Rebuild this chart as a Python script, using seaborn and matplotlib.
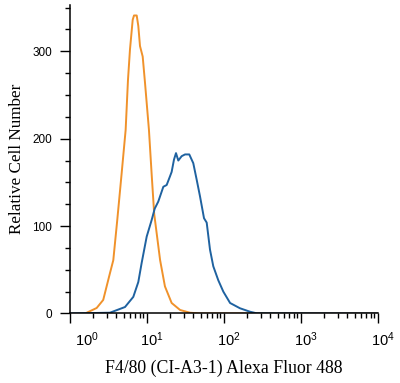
import matplotlib
matplotlib.use("Agg")
import matplotlib.pyplot as plt
import matplotlib.ticker as mticker
from matplotlib.transforms import ScaledTranslation
import pandas as pd
import seaborn as sns

sns.set_style("ticks", {"text.color": "black", "xtick.color": "black",
                        "ytick.color": "black", "axes.labelcolor": "black",
                        "axes.edgecolor": "black"})
plt.rcParams["font.family"] = ["Liberation Sans", "DejaVu Sans"]
plt.rcParams["mathtext.fontset"] = "custom"
plt.rcParams["mathtext.rm"] = "Liberation Sans"
plt.rcParams["mathtext.it"] = "Liberation Sans:italic"

ORANGE = "#F0922B"
BLUE = "#1F62A0"

DECADES = [1, 10, 100, 1000, 10000]
DECADE_LABELS = [r"$10^{0}$", r"$10^{1}$", r"$10^{2}$", r"$10^{3}$", r"$10^{4}$"]

# isotype control (orange)
iso_x = [1.65, 2.22, 2.70, 3.30, 3.65, 4.11, 4.67, 5.28, 5.66, 6.01, 6.52, 6.78,
         7.35, 7.71, 8.11, 8.79, 9.42, 10.6, 11.5, 12.4, 14.8, 17.1, 20.9, 26.9,
         36.1, 48.8, 10000]
iso_y = [0.9, 6.3, 15.5, 46, 61, 107, 159, 210, 267, 302, 336, 341,
         341, 329, 306, 294, 264, 210, 159, 114, 61, 31, 12, 4,
         0.9, 0, 0]

# F4/80 stained (blue)
f480_x = [1.0, 3.30, 5.18, 6.64, 7.71, 8.53, 9.91, 11.5, 12.6, 14.0, 16.3, 18.0,
          19.9, 20.9, 22.4, 23.8, 25.5, 28.2, 31.2, 35.4, 39.9, 44.2, 48.8, 55.0,
          59.6, 65.8, 72.6, 84.3, 98.0, 120, 161, 218, 266, 10000]
f480_y = [0, 0.9, 7.4, 19, 36, 58, 88, 107, 120, 128, 145, 147,
          157, 162, 176, 183.5, 175, 180, 182, 182, 172, 153, 134, 109,
          104, 73, 54, 38, 25, 12, 6, 2, 0.2, 0]

df = pd.concat([
    pd.DataFrame({"intensity": iso_x, "count": iso_y, "sample": "isotype"}),
    pd.DataFrame({"intensity": f480_x, "count": f480_y, "sample": "F4/80"}),
], ignore_index=True)

f = plt.figure(figsize=(4, 3.83), dpi=100)
ax = f.add_axes([0.175, 0.1815, 0.77, 0.8055])

sns.lineplot(data=df, x="intensity", y="count", hue="sample",
             palette={"isotype": ORANGE, "F4/80": BLUE}, legend=False,
             estimator=None, sort=False, linewidth=1.4, ax=ax)

ax.set_xscale("log")
ax.set_xlim(1, 1e4)
ax.set_ylim(0, 353)

ax.set_xticks(DECADES, DECADE_LABELS)
ax.xaxis.set_minor_locator(mticker.LogLocator(base=10, subs=range(2, 10)))
ax.xaxis.set_minor_formatter(mticker.NullFormatter())
ax.yaxis.set_major_locator(mticker.MultipleLocator(100))
ax.yaxis.set_minor_locator(mticker.MultipleLocator(25))

ax.tick_params(axis="both", which="major", direction="out", length=7, width=1, color="black")
ax.tick_params(axis="both", which="minor", direction="out", length=3.5, width=1, color="black")
ax.tick_params(axis="y", which="major", labelsize=8.5, pad=6, labelcolor="black")
ax.tick_params(axis="x", which="major", labelsize=10.5, pad=5, labelcolor="black")

sns.despine(ax=ax)
for side in ["left", "bottom"]:
    ax.spines[side].set_linewidth(1.1)
    ax.spines[side].set_color("black")

ax.set_xlabel("F4/80 (CI-A3-1) Alexa Fluor 488", family=["Liberation Serif"],
              fontsize=12.8, labelpad=8, color="black")
ax.set_ylabel("Relative Cell Number", family=["Liberation Serif"],
              fontsize=12.3, labelpad=5, color="black")

# decade labels sit a little right of their ticks, the first one more so
for i, lab in enumerate(ax.get_xticklabels()):
    dx = 17 if i == 0 else 5
    lab.set_transform(lab.get_transform() + ScaledTranslation(dx / 100, 0, f.dpi_scale_trans))

f.savefig("out.png", dpi=100)
